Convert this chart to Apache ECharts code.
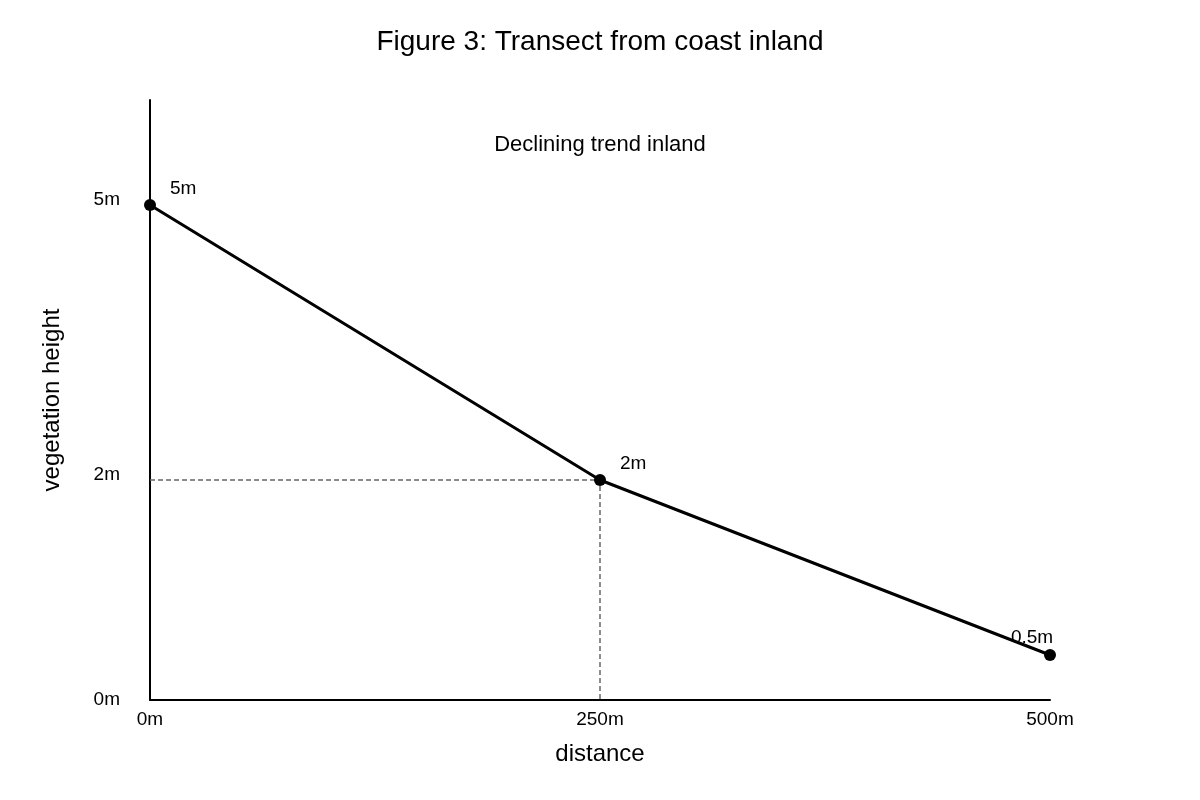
<!DOCTYPE html>
<html>
<head>
<meta charset="utf-8">
<script src="https://cdn.jsdelivr.net/npm/echarts@6/dist/echarts.min.js"></script>
<style>
html,body{margin:0;padding:0;background:#fff;}
#chart{width:1200px;height:800px;}
</style>
</head>
<body>
<div id="chart"></div>
<script>
// Distances along transect (m)
const distances = [0, 250, 500];
// Vegetation heights (labels as read)
const heightLabels = ['5m', '2m', '0.5m'];
// Plotted (schematic, not-to-scale) height positions as drawn in the figure
const plottedHeights = [4.95, 2.2, 0.45];
// Axis tick labels
const xTickValues = [0, 250, 500];
const xTickLabels = ['0m', '250m', '500m'];
const yTickValues = [0, 2.25, 5.0];
const yTickLabels = ['0m', '2m', '5m'];
// Reference (guide) point for dashed lines
const guideIndex = 1;

const FONT = 'Liberation Sans, Arial, sans-serif';
const chart = echarts.init(document.getElementById('chart'));

const mainData = distances.map((d, i) => {
  const item = { value: [d, plottedHeights[i]], name: heightLabels[i] };
  if (i === distances.length - 1) {
    item.label = { position: 'inside', offset: [-18, -17] };
  }
  return item;
});

const gx = distances[guideIndex], gy = plottedHeights[guideIndex];
const guideData = [[0, gy], [gx, gy], [gx, 0]];

chart.setOption({
  backgroundColor: '#fff',
  animation: false,
  textStyle: { fontFamily: FONT },
  title: [
    {
      text: 'Figure 3: Transect from coast inland',
      left: 'center', top: 28, padding: 0,
      textStyle: { fontFamily: FONT, fontSize: 28, fontWeight: 'normal', color: '#000' }
    },
    {
      text: 'Declining trend inland',
      left: 'center', top: 134, padding: 0,
      textStyle: { fontFamily: FONT, fontSize: 22, fontWeight: 'normal', color: '#000' }
    }
  ],
  grid: { left: 150, right: 150, top: 100, bottom: 100, containLabel: false },
  xAxis: {
    type: 'value', min: 0, max: 500,
    name: 'distance', nameLocation: 'middle', nameGap: 42,
    nameTextStyle: { fontFamily: FONT, fontSize: 24, color: '#000' },
    axisLine: { show: true, lineStyle: { color: '#000', width: 2 } },
    axisTick: { show: false },
    splitLine: { show: false },
    axisLabel: {
      customValues: xTickValues,
      formatter: v => xTickLabels[xTickValues.indexOf(v)] ?? '',
      fontFamily: FONT, fontSize: 19, color: '#000', margin: 10
    }
  },
  yAxis: {
    type: 'value', min: 0, max: 6,
    name: 'vegetation height', nameLocation: 'middle', nameGap: 86,
    nameTextStyle: { fontFamily: FONT, fontSize: 24, color: '#000' },
    axisLine: { show: true, onZero: false, lineStyle: { color: '#000', width: 2 } },
    axisTick: { show: false },
    splitLine: { show: false },
    axisLabel: {
      customValues: yTickValues,
      formatter: v => yTickLabels[yTickValues.indexOf(v)] ?? '',
      fontFamily: FONT, fontSize: 19, color: '#000', margin: 30
    }
  },
  series: [
    {
      type: 'line',
      data: guideData,
      symbol: 'none',
      silent: true,
      z: 1,
      lineStyle: { color: '#666', width: 1.5, type: [5, 3] }
    },
    {
      type: 'line',
      data: mainData,
      symbol: 'circle',
      symbolSize: 12,
      z: 3,
      itemStyle: { color: '#000' },
      lineStyle: { color: '#000', width: 3 },
      label: {
        show: true,
        position: 'right',
        distance: 14,
        offset: [0, -16],
        formatter: p => p.name,
        fontFamily: FONT, fontSize: 19, color: '#000'
      }
    }
  ]
});
</script>
</body>
</html>
